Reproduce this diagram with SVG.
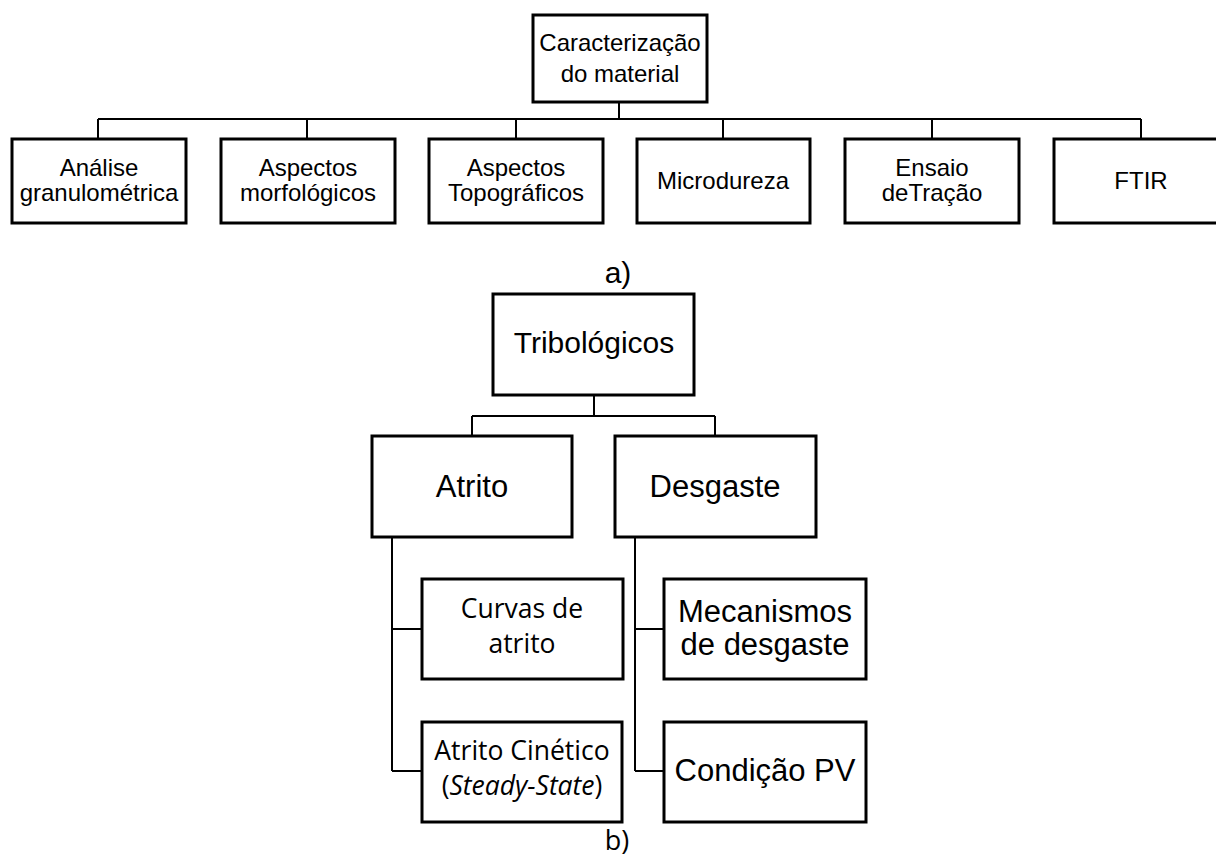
<svg xmlns="http://www.w3.org/2000/svg" width="1216" height="859" viewBox="0 0 1216 859">
<style>
.box{fill:#fff;stroke:#000;stroke-width:3}
.con{fill:none;stroke:#000;stroke-width:2}
.a{font-family:"Liberation Sans",Arial,sans-serif;font-size:24px;text-anchor:middle;fill:#000}
.b{font-family:"Liberation Sans",Arial,sans-serif;font-size:31px;text-anchor:middle;fill:#000}
.c{font-family:"Open Sans","Noto Sans",sans-serif;font-size:26.5px;text-anchor:middle;fill:#000}
.lbl{font-family:"Liberation Sans",Arial,sans-serif;font-size:30px;text-anchor:middle;fill:#000}
</style>
<rect width="1216" height="859" fill="#fff"/>
<g id="connectors">
<path class="con" d="M619 102V119M98 119H1141M98 119V139M307 119V139M516 119V139M723 119V139M932 119V139M1141 119V139"/>
<path class="con" d="M594 395V416M472 416H715M472 416V436M715 416V436"/>
<path class="con" d="M392 537V771M392 629H422M392 771H422"/>
<path class="con" d="M635 537V771M635 629H664M635 771H664"/>
</g>
<g id="n-caracterizacao"><rect class="box" x="533" y="15" width="174" height="87"/><text class="a" x="620" y="51">Caracterização</text><text class="a" x="620" y="82">do material</text></g>
<g id="n-analise"><rect class="box" x="12" y="139" width="174" height="84"/><text class="a" x="99" y="176">Análise</text><text class="a" x="99" y="201">granulométrica</text></g>
<g id="n-morfo"><rect class="box" x="221" y="139" width="174" height="84"/><text class="a" x="308" y="176">Aspectos</text><text class="a" x="308" y="201">morfológicos</text></g>
<g id="n-topo"><rect class="box" x="429" y="139" width="174" height="84"/><text class="a" x="516" y="176">Aspectos</text><text class="a" x="516" y="201">Topográficos</text></g>
<g id="n-micro"><rect class="box" x="637" y="139" width="173" height="84"/><text class="a" x="723" y="189">Microdureza</text></g>
<g id="n-tracao"><rect class="box" x="845" y="139" width="174" height="84"/><text class="a" x="932" y="176">Ensaio</text><text class="a" x="932" y="201">deTração</text></g>
<g id="n-ftir"><rect class="box" x="1054" y="139" width="176" height="84"/><text class="a" x="1141" y="189">FTIR</text></g>
<text class="lbl" x="618" y="283">a)</text>
<g id="n-tribo"><rect class="box" x="493" y="294" width="201" height="101"/><text class="b" x="594" y="353" style="font-size:30px">Tribológicos</text></g>
<g id="n-atrito"><rect class="box" x="372" y="436" width="200" height="101"/><text class="b" x="472" y="497">Atrito</text></g>
<g id="n-desgaste"><rect class="box" x="615" y="436" width="201" height="101"/><text class="b" x="715" y="497">Desgaste</text></g>
<g id="n-curvas"><rect class="box" x="422" y="579" width="201" height="100"/><text class="c" x="522" y="618">Curvas de</text><text class="c" x="522" y="653">atrito</text></g>
<g id="n-cinetico"><rect class="box" x="422" y="722" width="200" height="100"/><text class="c" x="522" y="760">Atrito Cinético</text><text class="c" x="522" y="795">(<tspan font-style="italic">Steady-State</tspan>)</text></g>
<g id="n-mecanismos"><rect class="box" x="664" y="579" width="202" height="100"/><text class="b" x="765" y="622">Mecanismos</text><text class="b" x="765" y="655">de desgaste</text></g>
<g id="n-pv"><rect class="box" x="664" y="722" width="202" height="100"/><text class="b" x="765" y="781">Condição PV</text></g>
<text class="c" x="617" y="850" style="font-size:27px">b)</text>
</svg>
